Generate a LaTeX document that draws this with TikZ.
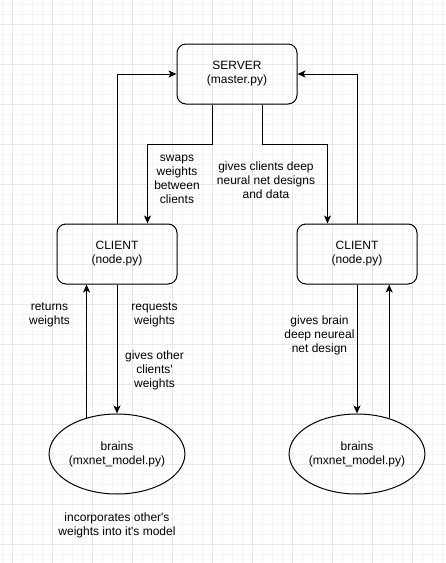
\documentclass[tikz,border=0pt]{standalone}
\usepackage{fontspec}
\setmainfont{Liberation Sans}
\usetikzlibrary{arrows.meta,shapes.geometric}
\begin{document}
\begin{tikzpicture}[x=1pt,y=-1pt,
  every node/.style={font=\fontsize{12}{14}\selectfont, text=black},
  box/.style={draw, line width=1pt, rounded corners=9pt, minimum width=120pt,
    minimum height=60pt, align=center, inner sep=0pt},
  brain/.style={draw, line width=1pt, ellipse, minimum width=120pt,
    minimum height=80pt, align=center, inner sep=0pt},
  lbl/.style={align=center, inner sep=0pt},
  link/.style={line width=1pt, -{Stealth[length=8pt,width=7pt,inset=2pt]}},
  minorgrid/.style={line width=0.8pt, black!4},
  majorgrid/.style={line width=1pt, black!9}]

% canvas and grid
\useasboundingbox (0,0) rectangle (446,563);
\fill[white] (0,0) rectangle (446,563);
\foreach \x in {2.5,12.5,...,442.5} \draw[minorgrid] (\x,0) -- (\x,563);
\foreach \y in {4,14,...,560} \draw[minorgrid] (0,\y) -- (446,\y);
\foreach \x in {12.5,52.5,...,440} \draw[majorgrid] (\x,0) -- (\x,563);
\foreach \y in {24,64,...,560} \draw[majorgrid] (0,\y) -- (446,\y);

% components
\node[box]   (server) at (237,74)  {SERVER\\(master.py)};
\node[box]   (cl)     at (117,254) {CLIENT\\(node.py)};
\node[box]   (cr)     at (357,254) {CLIENT\\(node.py)};
\node[brain] (bl)     at (117,454) {brains\\(mxnet\_model.py)};
\node[brain] (br)     at (357,454) {brains\\(mxnet\_model.py)};

% server <-> clients
\draw[link] (cl.north) -- (cl.north |- server.west) -- (server.west);
\draw[link] (cr.north) -- (cr.north |- server.east) -- (server.east);
\draw[link] ([xshift=-24.5pt]server.south) -- ++(0,40) -| ([xshift=30.5pt]cl.north);
\draw[link] ([xshift=25.5pt]server.south) -- ++(0,40) -| ([xshift=-29.5pt]cr.north);

% clients <-> brains
\draw[link] (cl.south) -- (bl.north);
\draw[link] (bl.130.3) -- (bl.130.3 |- cl.south);
\draw[link] (cr.south) -- (br.north);
\draw[link] (br.48.3) -- (br.48.3 |- cr.south);

% labels
\node[lbl] (swap)   at (177,179)   {swaps\\weights\\between\\clients};
\node[lbl] (design) at (266,180)   {gives clients deep\\neural net designs\\and data};
\node[lbl] (ret)    at (49.5,315)  {returns\\weights};
\node[lbl] (req)    at (154.5,315) {requests\\weights};
\node[lbl] (other)  at (154.5,370) {gives other\\clients\textquotesingle\\weights};
\node[lbl] (gbrain) at (319.5,335) {gives brain\\deep neureal\\net design};
\node[lbl] (incorp) at (117,525.5) {incorporates other\textquotesingle s\\weights into it\textquotesingle s model};
\end{tikzpicture}
\end{document}
